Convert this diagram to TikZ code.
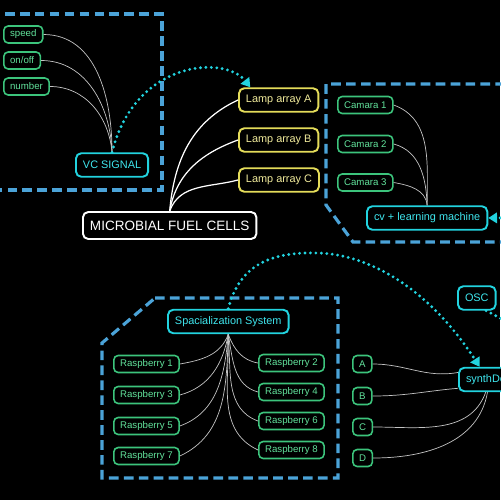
\documentclass[tikz,border=0pt]{standalone}
\usepackage{fontspec}
\setmainfont{Liberation Sans}
\usetikzlibrary{arrows.meta}

\definecolor{dashblue}{HTML}{4BA3D8}
\definecolor{cyanline}{HTML}{22D3DF}
\definecolor{cyantext}{HTML}{3FE6EE}
\definecolor{greenline}{HTML}{3CC47C}
\definecolor{greentext}{HTML}{62E39C}
\definecolor{lampline}{HTML}{E4DC5A}
\definecolor{lamptext}{HTML}{F2EC9C}
\definecolor{wiregrey}{HTML}{C4C4C4}

\tikzset{
  smallbox/.style={draw=greenline,text=greentext,fill=black,line width=0.9pt,rounded corners=2.5pt,
    inner xsep=3.6pt,inner ysep=0pt,minimum height=0.34cm,anchor=west,font=\fontsize{5.5}{6}\selectfont},
  sigbox/.style={draw=cyanline,text=cyantext,fill=black,line width=1.1pt,rounded corners=3pt,
    inner xsep=4pt,inner ysep=0pt,minimum height=0.47cm,anchor=west,font=\fontsize{6.2}{7}\selectfont},
  lampbox/.style={sigbox,draw=lampline,text=lamptext},
  cellbox/.style={sigbox,draw=white,text=white,minimum height=0.54cm,font=\fontsize{7.7}{9}\selectfont},
  groupline/.style={draw=dashblue,line width=1.8pt,dash pattern=on 5.5pt off 3pt},
  wire/.style={draw=wiregrey,line width=0.4pt},
  lampwire/.style={draw=white,line width=0.7pt},
  dotline/.style={draw=cyanline,line width=1.8pt,line cap=round,dash pattern=on 0pt off 3.1pt},
  dotarrow/.style={dotline,-{Triangle[length=5pt,width=6pt]}},
}

\begin{document}
\begin{tikzpicture}[x=0.02cm,y=0.02cm]
\useasboundingbox (0,0) rectangle (500,-500);
\fill[black] (0,0) rectangle (500,-500);

\draw[groupline] (-10,-14) -- (162,-14) -- (162,-190) -- (-10,-190);
\draw[groupline] (520,-84) -- (326,-84) -- (326,-205) -- (353,-242) -- (520,-242);
\draw[groupline] (155,-298) -- (338,-298) -- (338,-478) -- (102,-478) -- (102,-343) -- cycle;

\node[smallbox] (speed) at (3,-34.5) {speed};
\node[smallbox] (onoff) at (3,-60.5) {on/off};
\node[smallbox] (number) at (3,-86.5) {number};
\node[sigbox] (vc) at (75,-165) {VC SIGNAL};

\node[lampbox] (lampA) at (238,-100) {Lamp array A};
\node[lampbox] (lampB) at (238,-140) {Lamp array B};
\node[lampbox] (lampC) at (238,-180) {Lamp array C};
\node[cellbox] (mfc) at (82,-225.5) {MICROBIAL FUEL CELLS};

\node[smallbox] (cam1) at (337,-105) {Camara 1};
\node[smallbox] (cam2) at (337,-144) {Camara 2};
\node[smallbox] (cam3) at (337,-182.5) {Camara 3};
\node[sigbox] (cv) at (366,-218) {cv + learning machine};

\node[sigbox] (spat) at (167,-321.5) {Spacialization System};
\node[smallbox] (rasp1) at (113,-364) {Raspberry 1};
\node[smallbox] (rasp3) at (113,-395) {Raspberry 3};
\node[smallbox] (rasp5) at (113,-426) {Raspberry 5};
\node[smallbox] (rasp7) at (113,-456) {Raspberry 7};
\node[smallbox] (rasp2) at (258,-363) {Raspberry 2};
\node[smallbox] (rasp4) at (258,-392) {Raspberry 4};
\node[smallbox] (rasp6) at (258,-421) {Raspberry 6};
\node[smallbox] (rasp8) at (258,-450) {Raspberry 8};

\node[smallbox] (chA) at (352,-364) {A};
\node[smallbox] (chB) at (352,-396) {B};
\node[smallbox] (chC) at (352,-427) {C};
\node[smallbox] (chD) at (352,-458) {D};
\node[sigbox] (osc) at (457,-298) {OSC};
\node[sigbox] (synth) at (458,-379.5) {synthDef};

\coordinate (cvsrc) at (560,-217);
\coordinate (oscout) at (530,-332);

\draw[wire] (speed.east) to[out=0,in=90] (vc.north);
\draw[wire] (onoff.east) to[out=0,in=92] (vc.north);
\draw[wire] (number.east) to[out=0,in=95] (vc.north);

\draw[lampwire] (mfc.north) to[out=85,in=205] (lampA.west);
\draw[lampwire] (mfc.north) to[out=80,in=200] (lampB.west);
\draw[lampwire] (mfc.north) to[out=70,in=195] (lampC.west);

\draw[wire] (cam1.east) to[out=-20,in=90] (cv.north);
\draw[wire] (cam2.east) to[out=-15,in=92] (cv.north);
\draw[wire] (cam3.east) to[out=-10,in=95] (cv.north);

\draw[wire] (spat.south) to[out=-110,in=10] (rasp1.east);
\draw[wire] (spat.south) to[out=-100,in=15] (rasp3.east);
\draw[wire] (spat.south) to[out=-95,in=20] (rasp5.east);
\draw[wire] (spat.south) to[out=-92,in=25] (rasp7.east);
\draw[wire] (spat.south) to[out=-70,in=170] (rasp2.west);
\draw[wire] (spat.south) to[out=-80,in=165] (rasp4.west);
\draw[wire] (spat.south) to[out=-85,in=160] (rasp6.west);
\draw[wire] (spat.south) to[out=-88,in=155] (rasp8.west);

\draw[wire] (chA.east) to[out=0,in=190] ([yshift=4pt]synth.west);
\draw[wire] (chB.east) to[out=0,in=185] ([yshift=-5pt]synth.west);
\draw[wire] (chC.east) to[out=0,in=-110] ([xshift=-1pt]synth.south);
\draw[wire] (chD.east) to[out=0,in=-100] (synth.south);

\draw[dotarrow] (vc.north) .. controls (135,-60) and (225,-55) .. ([xshift=7pt]lampA.north west);
\draw[dotarrow] (spat.north) .. controls (240,-262) and (275,-252) .. (317,-253)
  .. controls (370,-254) and (430,-290) .. ([xshift=-4.5pt]synth.north);
\draw[dotarrow] (cvsrc) -- (cv.east);
\draw[dotline] ([xshift=-6pt]osc.south east) to[out=-25,in=165] (oscout);
\end{tikzpicture}
\end{document}
